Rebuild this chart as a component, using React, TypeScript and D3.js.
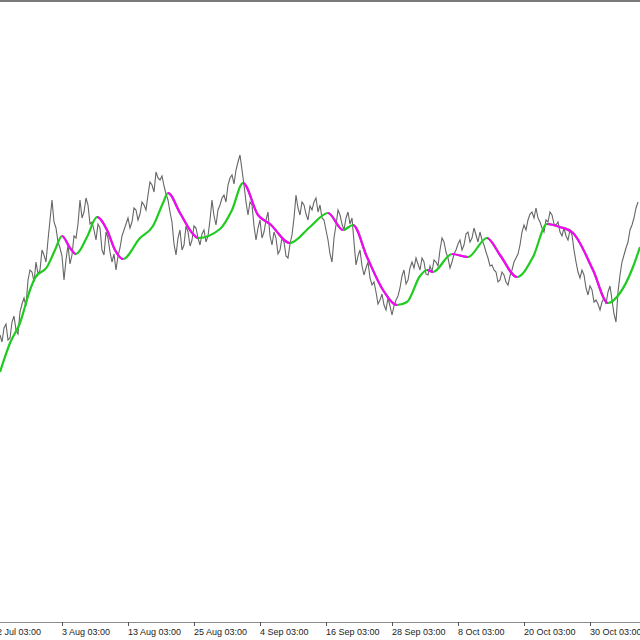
import { useEffect, useRef } from 'react';
import * as d3 from 'd3';

// close prices, one per bar (points)
const closes = [
  287, 280, 294, 298, 282, 284, 300, 306, 292, 288, 310, 318, 324, 316, 342, 352, 350, 340, 360, 348,
  352, 372, 367, 360, 382, 402, 422, 400, 394, 380, 374, 366, 342, 362, 377, 358, 367, 386, 384, 398,
  422, 404, 410, 424, 417, 398, 400, 392, 382, 398, 394, 372, 367, 390, 384, 370, 360, 368, 352, 366,
  374, 386, 392, 398, 404, 394, 400, 414, 412, 402, 408, 420, 417, 412, 427, 440, 437, 430, 450, 444,
  442, 446, 436, 428, 422, 410, 400, 378, 367, 384, 392, 372, 377, 396, 390, 376, 382, 396, 394, 384,
  377, 388, 392, 380, 386, 402, 422, 406, 397, 412, 417, 424, 427, 420, 437, 444, 447, 438, 452, 460,
  467, 452, 437, 420, 407, 420, 417, 396, 382, 394, 402, 384, 390, 402, 410, 386, 377, 390, 384, 368,
  372, 384, 380, 366, 364, 378, 387, 404, 427, 414, 407, 420, 417, 408, 402, 416, 412, 420, 424, 410,
  417, 404, 402, 392, 382, 368, 360, 384, 397, 412, 407, 398, 392, 404, 410, 398, 404, 380, 357, 366,
  372, 356, 347, 354, 360, 344, 337, 340, 330, 318, 322, 328, 317, 312, 324, 316, 307, 316, 322, 326,
  334, 346, 352, 338, 342, 354, 360, 354, 364, 358, 352, 364, 360, 348, 347, 356, 350, 362, 360, 356,
  372, 384, 380, 370, 364, 354, 360, 368, 372, 378, 382, 372, 377, 388, 390, 380, 384, 394, 387, 380,
  390, 382, 377, 370, 364, 356, 357, 352, 350, 340, 342, 350, 347, 340, 337, 346, 352, 360, 364, 368,
  377, 390, 397, 392, 402, 408, 410, 404, 414, 404, 400, 394, 390, 402, 400, 410, 407, 398, 397, 400,
  390, 386, 394, 386, 382, 392, 387, 372, 360, 350, 344, 352, 347, 334, 327, 336, 332, 320, 322, 318,
  312, 320, 324, 318, 330, 336, 322, 308, 300, 330, 347, 360, 367, 374, 380, 392, 397, 404, 414, 420,
];

// smoothed moving average, read at its turning points (bar position, value)
const maBars = [
  0, 5, 10, 15, 17.5, 23.5, 27.5, 31, 35, 38,
  43.5, 48.5, 53.5, 57.5, 61.5, 70, 76.5, 81.5, 84, 90,
  96.5, 99, 110, 116, 121.5, 129, 135, 145, 155, 164,
  171.5, 176.5, 183.5, 191.5, 198.5, 203.5, 210, 213.5, 216.5, 226,
  234, 243.5, 250, 258.5, 266.5, 273.5, 280, 286.5, 296.5, 304,
  310, 316.5, 320,
];
const maValues = [
  250, 279, 299, 332, 344, 355, 372, 386, 374, 368,
  385, 405, 392, 372, 363, 384, 396, 419, 429, 409,
  388, 384, 393, 412, 439, 407, 398, 379, 395, 409,
  392, 397, 365, 332, 317, 320, 346, 352, 350, 368,
  365, 384, 367, 345, 365, 398, 395, 389, 352, 319,
  329, 355, 375,
];

const tickLabels = [
  '22 Jul 03:00', '3 Aug 03:00', '13 Aug 03:00', '25 Aug 03:00', '4 Sep 03:00',
  '16 Sep 03:00', '28 Sep 03:00', '8 Oct 03:00', '20 Oct 03:00', '30 Oct 03:00',
];
const tickBars = [-4, 31, 64, 97, 130, 163, 196, 229, 262, 295];

export default function App() {
  const svgRef = useRef<SVGSVGElement>(null);

  useEffect(() => {
    if (!svgRef.current) return;
    const svg = d3.select(svgRef.current);
    svg.selectAll('*').remove();

    const width = 640;
    const height = 640;
    const axisY = 622;

    svg.attr('width', width).attr('height', height);

    svg.append('rect')
      .attr('width', width).attr('height', height)
      .attr('fill', '#fff');

    const x = d3.scaleLinear().domain([0, 320]).range([0, 640]);
    const y = d3.scaleLinear().domain([0, 622]).range([622, 0]);

    // window border on top
    svg.append('rect')
      .attr('x', 0).attr('y', 0)
      .attr('width', width).attr('height', 2)
      .attr('fill', '#7a7a7a');

    // price line
    const priceLine = d3.line<number>()
      .x((_, i) => x(i))
      .y(d => y(d));

    svg.append('path')
      .datum(closes)
      .attr('d', priceLine)
      .attr('fill', 'none')
      .attr('stroke', '#666')
      .attr('stroke-width', 1.1);

    // moving average: green rising, magenta falling
    const maPoints = maBars.map((b, i) => [b, maValues[i]] as [number, number]);
    const maLine = d3.line<[number, number]>()
      .x(d => x(d[0]))
      .y(d => y(d[1]))
      .curve(d3.curveMonotoneX);

    const defs = svg.append('defs');
    const clip = defs.append('clipPath').attr('id', 'falling');
    for (let i = 1; i < maPoints.length; i++) {
      if (maPoints[i][1] < maPoints[i - 1][1]) {
        clip.append('rect')
          .attr('x', x(maPoints[i - 1][0]))
          .attr('y', 0)
          .attr('width', x(maPoints[i][0]) - x(maPoints[i - 1][0]))
          .attr('height', height);
      }
    }

    svg.append('path')
      .datum(maPoints)
      .attr('d', maLine)
      .attr('fill', 'none')
      .attr('stroke', '#1ecb1e')
      .attr('stroke-width', 2.2);

    svg.append('path')
      .datum(maPoints)
      .attr('d', maLine)
      .attr('clip-path', 'url(#falling)')
      .attr('fill', 'none')
      .attr('stroke', '#ff00ff')
      .attr('stroke-width', 2.2);

    // time axis
    svg.append('line')
      .attr('x1', 0).attr('x2', width)
      .attr('y1', axisY + 0.5).attr('y2', axisY + 0.5)
      .attr('stroke', '#8c8c8c')
      .attr('stroke-width', 1);

    const ticks = svg.append('g');
    tickBars.forEach((b, i) => {
      ticks.append('line')
        .attr('x1', x(b) + 0.5).attr('x2', x(b) + 0.5)
        .attr('y1', axisY).attr('y2', axisY + 4)
        .attr('stroke', '#555')
        .attr('stroke-width', 1);
      ticks.append('text')
        .attr('x', x(b))
        .attr('y', 635)
        .attr('font-family', 'Liberation Sans, Arial, sans-serif')
        .attr('font-size', 9)
        .attr('fill', '#222')
        .text(tickLabels[i]);
    });
  }, []);

  return (
    <div className="viz-container">
      <svg ref={svgRef} style={{ position: 'absolute', top: 0, left: 0 }}></svg>
    </div>
  );
}
